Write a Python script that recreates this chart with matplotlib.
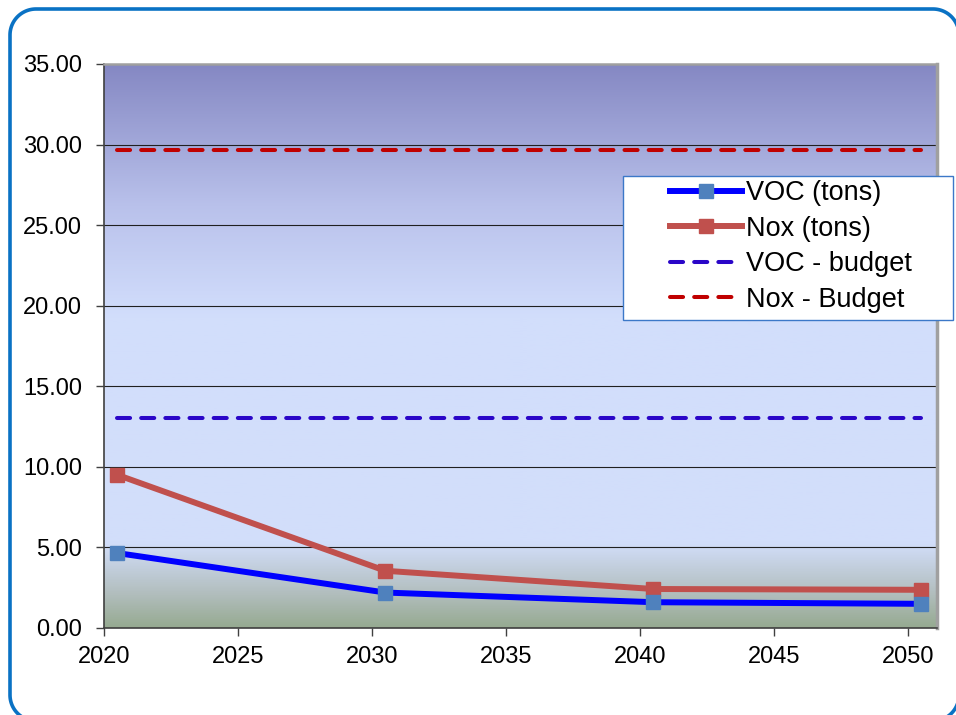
import numpy as np
import matplotlib.pyplot as plt
from matplotlib.colors import LinearSegmentedColormap
from matplotlib.patches import Rectangle

plt.rcParams['font.family'] = ['Liberation Sans', 'DejaVu Sans']

years = [2020.5, 2030.5, 2040.5, 2050.5]
voc = [4.65, 2.2, 1.6, 1.5]
nox = [9.5, 3.55, 2.42, 2.37]
voc_budget = [13.03, 13.03, 13.03, 13.03]
nox_budget = [29.67, 29.67, 29.67, 29.67]
xticks = [2020, 2025, 2030, 2035, 2040, 2045, 2050]
yticks = [0, 5, 10, 15, 20, 25, 30, 35]

W, H = 956, 715
fig = plt.figure(figsize=(W / 100, H / 100), dpi=100)

# pixel-space axes for the rounded blue frame (cut off right and bottom)
bg = fig.add_axes([0, 0, 1, 1])
bg.set_xlim(0, W)
bg.set_ylim(H, 0)
bg.axis('off')
x0, y0, x1, y1, r = 10, 9, 959, 721, 26
t = np.linspace(0, np.pi / 2, 30)
# corners: bottom-left, top-left, top-right, bottom-right
bl_x, bl_y = x0 + r - r * np.cos(t), y1 - r + r * np.sin(t)
tl_x, tl_y = x0 + r - r * np.cos(t), y0 + r - r * np.sin(t)
tr_x, tr_y = x1 - r + r * np.sin(t), y0 + r - r * np.cos(t)
br_x, br_y = x1 - r + r * np.cos(t), y1 - r + r * np.sin(t)
px = np.concatenate([bl_x[::-1], tl_x, tr_x, br_x, [bl_x[-1]]])
py = np.concatenate([bl_y[::-1], tl_y, tr_y, br_y, [bl_y[-1]]])
bg.plot(px, py, color='#0a72c4', linewidth=2.6, clip_on=False, solid_joinstyle='round')

ax = fig.add_axes([104 / W, 1 - 628 / H, (937 - 104) / W, (628 - 64) / H])

# gradient background of the plot area
stops = [(0.0, (150/255, 170/255, 145/255)),
         (0.06, (178/255, 190/255, 190/255)),
         (0.15, (210/255, 222/255, 250/255)),
         (0.55, (210/255, 222/255, 252/255)),
         (0.75, (185/255, 193/255, 235/255)),
         (1.0, (133/255, 136/255, 195/255))]
cmap = LinearSegmentedColormap.from_list('bg', stops)
grad = np.linspace(0, 1, 256).reshape(-1, 1)
ax.imshow(grad, aspect='auto', cmap=cmap, origin='lower',
          extent=[0, 1, 0, 1], transform=ax.transAxes, zorder=0)

ax.set_xlim(2020, 2051.08)
ax.set_ylim(0, 35)
ax.set_xticks(xticks)
ax.set_yticks(yticks)
ax.set_yticklabels(['%.2f' % v for v in yticks])
ax.grid(axis='y', color='#202020', linewidth=0.8, zorder=1)
ax.tick_params(axis='both', labelsize=17, length=6, width=1, color='#404040', direction='out')
ax.tick_params(axis='x', pad=7)
ax.tick_params(axis='y', pad=10)
for s in ['left', 'bottom']:
    ax.spines[s].set_color('#404040')
    ax.spines[s].set_linewidth(1.2)
ax.spines['top'].set_color('#a0a0a0')
ax.spines['top'].set_linewidth(1.8)
ax.spines['right'].set_color('#a0a0a0')
ax.spines['right'].set_linewidth(2.5)

l1, = ax.plot(years, voc, color='#0000ff', linewidth=4.3, marker='s', markersize=10.5,
              markerfacecolor='#4f81bd', markeredgecolor='#4f81bd', zorder=4,
              label='VOC (tons)')
l2, = ax.plot(years, nox, color='#c0504d', linewidth=4.3, marker='s', markersize=10.5,
              markerfacecolor='#c0504d', markeredgecolor='#c0504d', zorder=3,
              label='Nox (tons)')
l3, = ax.plot(years, voc_budget, color='#2a06c8', linewidth=2.9, linestyle=(0, (3.25, 2.75)),
              dash_capstyle='round', zorder=2, label='VOC - budget')
l4, = ax.plot(years, nox_budget, color='#c00000', linewidth=2.9, linestyle=(0, (3.25, 2.75)),
              dash_capstyle='round', zorder=2, label='Nox - Budget')

# legend box drawn separately (wide left padding)
box = Rectangle((623, 176), 330, 144, facecolor='white', edgecolor='#3c78c8',
                linewidth=1.0, zorder=5, transform=bg.transData)
fig.patches.append(box)
leg = fig.legend(handles=[l1, l2, l3, l4], loc='upper left',
                 bbox_to_anchor=(662 / W, 1 - 172 / H), frameon=False,
                 fontsize=19.5, handlelength=2.67, handletextpad=0.15,
                 labelspacing=0.35, borderpad=0.3, borderaxespad=0)
leg.set_zorder(6)

fig.savefig('out.png', dpi=100)
